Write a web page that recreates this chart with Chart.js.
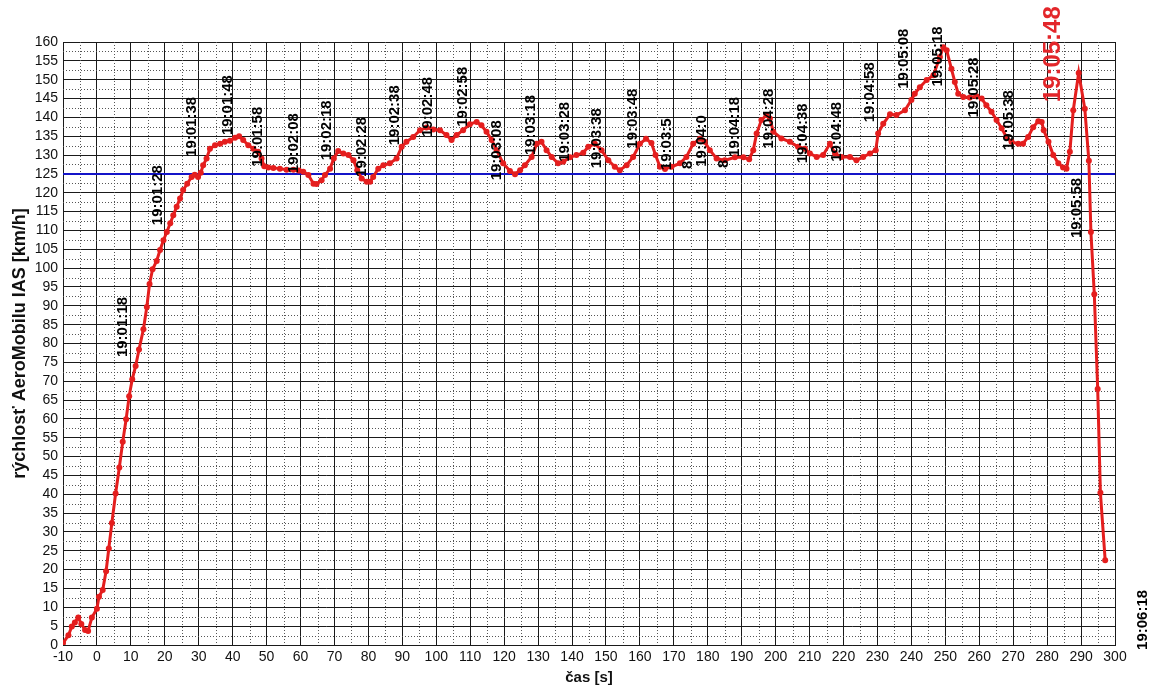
<!DOCTYPE html>
<html><head><meta charset="utf-8">
<script src="https://cdn.jsdelivr.net/npm/chart.js@4/dist/chart.umd.min.js"></script>
<style>html,body{margin:0;padding:0;background:#fff;}canvas{display:block;}</style>
</head><body>
<canvas id="c" width="1159" height="691"></canvas>
<script>
// ---- data ----
const timeS = [-10,-8.4,-7.4,-6.5,-5.5,-4.6,-3.5,-2.6,-1.5,0,0.6,1.7,2.7,3.5,4.4,5.5,6.6,7.6,8.6,9.5,10.4,11.4,12.4,13.7,14.7,15.5,16.4,17.6,18.6,19.6,20.6,21.6,22.5,23.5,24.5,25.4,26.6,27.9,28.8,29.8,30.6,31.3,32.3,33.3,34.8,36.3,37.7,39.2,40.7,41.9,43.1,44.6,46.1,47.5,48.5,49.3,50.5,52,53.9,55.9,57.9,59.5,60.8,62.3,63.8,64.7,66.2,67.2,68.7,69.8,71.1,72.6,74.1,75.6,76.7,78,79.5,80.5,81.4,82.9,84.4,86.3,88.3,89.8,91.2,93.2,95.2,97.1,99.1,101.1,103,104.5,106,107.9,109.9,111.9,113.3,114.8,116.3,117.8,119.7,121.7,123.2,124.7,126.1,128.1,129.6,131,132.5,134,135.9,137.4,139.4,141.3,143.3,144.8,146.7,148.7,150.7,152.6,154.1,156.1,158,160,161.8,163.4,164.6,165.9,167.4,169.3,171.8,173.7,175.7,177.7,179.1,180.6,182.6,185,188,190.5,192.2,193.4,194.4,195.8,197.3,198.3,199.3,201.7,204.2,206.6,208.6,210.1,212.1,214,216,217.5,219.4,221.9,223.8,225.8,227.8,229.5,230.2,231.7,233.7,235.6,238.1,240,241,242.5,244.5,246.5,248.4,249.4,250.4,251.8,252.8,253.8,255.3,257.2,259.2,260.7,262.1,263.6,265.1,266.6,268,269.5,271.5,272.9,274.4,275.9,277.4,278.4,279,280.4,281.8,283.3,284.7,285.7,286.7,287.7,289.3,291.1,292.3,292.9,293.9,294.9,295.7,297.1];
const iasKmh = [0.5,2.6,4.9,6,7.3,5.6,4,3.7,7.3,9.6,12.8,14.6,19.6,25.6,32.4,40.2,47.1,53.9,59.9,66,70.5,74,78.4,83.8,89.7,95.8,99.7,101.9,104.8,107.4,109.6,111.9,114,116.3,118.5,120.7,122.4,124.2,124.8,124.2,125.3,127.3,129.1,131.7,132.6,133,133.5,133.8,134.6,135,134,132.6,131.7,130.9,129.1,127,126.7,126.6,126.4,126.1,126.1,125.9,125.6,124.7,122.4,122.3,123.3,124.7,126.4,129.1,131.1,130.4,130,128.6,126,123.8,122.9,122.9,124.2,126.4,127.3,127.8,129.1,132.2,133.5,134.8,136.6,137.3,136.8,136.6,135.3,134,135.3,136.6,138.2,138.8,137.9,136.2,134,131.3,127.8,125.8,124.9,126,127.3,129.5,133,133.5,131.3,129.5,127.8,128.2,129.4,130,130.6,132.2,133,131.3,128.6,126.9,126,127.3,129.5,133,134.3,133.2,130,126.9,126.3,126.9,127.8,129.5,133,134.3,133.5,131.3,129.1,128.6,129.4,129.4,128.9,131.3,135.7,139.3,140.6,139.7,136.2,134.4,133.5,132.2,131.7,130.4,129.5,130,133,130.4,129.5,129.5,128.6,129.5,130.4,131.3,135.7,138.3,140.8,140.6,141.9,144.6,146.3,148,149.9,151.2,156,158.6,157.8,152.9,149.4,146.3,145.4,145.3,145.6,145,143.2,141.5,139.3,137.1,134.8,133.5,133,133,134.8,137.4,139,138.8,136.6,133.5,130,127.8,126.7,126.4,130.9,141.9,151.8,142.3,128.5,109.6,93.1,67.9,40.4,22.5];
const limitTime = [-10, 300];
const limitKmh = [125, 125];
const xRange = [-10, 300];
const yRange = [0, 160];
const xStep = 10;
const yStep = 5;
// time stamps written on the chart (anchor = bottom of the vertical text, in data units)
const stampText = ['19:01:18','19:01:28','19:01:38','19:01:48','19:01:58','19:02:08','19:02:18','19:02:28','19:02:38','19:02:48','19:02:58','19:03:08','19:03:18','19:03:28','19:03:38','19:03:48','19:03:5','8','19:04:0','8','19:04:18','19:04:28','19:04:38','19:04:48','19:04:58','19:05:08','19:05:18','19:05:28','19:05:38','19:05:58','19:06:18'];
const stampX = [7.7,18,27.9,38.5,47.5,57.9,67.7,78,87.8,97.6,107.7,117.8,127.8,137.9,147.2,158,168,174.2,178.2,184.6,188,198.1,207.9,218,227.8,237.8,247.9,258.5,268.6,288.7,308.2];
const stampY = [76.4,111.4,129.5,135.3,126.9,125.2,128.6,124.2,132.6,134.8,137.5,123.3,130,128.2,126.5,131.7,126,126.3,126.9,126.6,129.5,131.7,127.8,128.2,138.7,147.6,148.2,140,131.3,108,-1.3];
const markText = ['19:05:48'];
const markX = [281.7];
const markY = [144.0];

const FONT = '"Liberation Sans", Arial, sans-serif';

const minorGrid = {
  id: 'minorGrid',
  beforeDatasetsDraw(chart) {
    const {ctx, chartArea: a, scales: {x, y}} = chart;
    ctx.save();
    ctx.strokeStyle = '#555';
    ctx.lineWidth = 1;
    ctx.setLineDash([1, 2]);
    for (let v = xRange[0] + xStep / 2; v < xRange[1]; v += xStep) {
      const px = Math.round(x.getPixelForValue(v)) + 0.5;
      ctx.beginPath(); ctx.moveTo(px, a.top); ctx.lineTo(px, a.bottom); ctx.stroke();
    }
    for (let v = yRange[0] + yStep / 2; v < yRange[1]; v += yStep) {
      const py = Math.round(y.getPixelForValue(v)) + 0.5;
      ctx.beginPath(); ctx.moveTo(a.left, py); ctx.lineTo(a.right, py); ctx.stroke();
    }
    ctx.restore();
  }
};

const stamps = {
  id: 'stamps',
  afterDatasetsDraw(chart) {
    const {ctx, scales: {x, y}} = chart;
    const put = (t, vx, vy, font, color) => {
      ctx.save();
      ctx.translate(x.getPixelForValue(vx), y.getPixelForValue(vy));
      ctx.rotate(-Math.PI / 2);
      ctx.font = font;
      ctx.fillStyle = color;
      ctx.textAlign = 'left';
      ctx.textBaseline = 'middle';
      ctx.fillText(t, 0, 0);
      ctx.restore();
    };
    stampText.forEach((t, i) => put(t, stampX[i], stampY[i], 'bold 15px ' + FONT, '#000'));
    markText.forEach((t, i) => put(t, markX[i], markY[i], 'bold 24px ' + FONT, '#e3262a'));
  }
};

new Chart(document.getElementById('c'), {
  type: 'line',
  data: {
    datasets: [
      {
        label: 'IAS',
        data: timeS.map((t, i) => ({x: t, y: iasKmh[i]})),
        borderColor: '#e41e1e',
        backgroundColor: '#e41e1e',
        borderWidth: 3,
        pointRadius: 3,
        pointBorderWidth: 0,
        tension: 0,
        order: 0
      },
      {
        label: 'limit',
        data: limitTime.map((t, i) => ({x: t, y: limitKmh[i]})),
        borderColor: '#1414c8',
        borderWidth: 2,
        pointRadius: 0,
        order: 1
      }
    ]
  },
  options: {
    responsive: false,
    devicePixelRatio: 1,
    animation: false,
    layout: {padding: {top: 42, right: 44, left: 0, bottom: 0}},
    plugins: {legend: {display: false}, tooltip: {enabled: false}, title: {display: false}},
    scales: {
      x: {
        type: 'linear', min: xRange[0], max: xRange[1],
        afterFit(s) { s.height = 46; },
        ticks: {stepSize: xStep, padding: 4, color: '#111', font: {family: FONT, size: 14}, maxRotation: 0, autoSkip: false},
        grid: {color: '#1a1a1a', lineWidth: 1, drawTicks: false},
        border: {color: '#1a1a1a'},
        title: {display: true, text: 'čas [s]', color: '#111', font: {family: FONT, size: 15, weight: 'bold'}, padding: {top: 0, bottom: 4}}
      },
      y: {
        min: yRange[0], max: yRange[1],
        afterFit(s) { s.width = 63; },
        ticks: {stepSize: yStep, padding: 5, color: '#111', font: {family: FONT, size: 14}, autoSkip: false},
        grid: {color: '#1a1a1a', lineWidth: 1, drawTicks: false},
        border: {color: '#1a1a1a'},
        title: {display: true, text: 'rýchlosť AeroMobilu IAS [km/h]', color: '#111', font: {family: FONT, size: 18, weight: 'bold'}, padding: {top: 9, bottom: 0}}
      }
    }
  },
  plugins: [minorGrid, stamps]
});
</script>
</body></html>
